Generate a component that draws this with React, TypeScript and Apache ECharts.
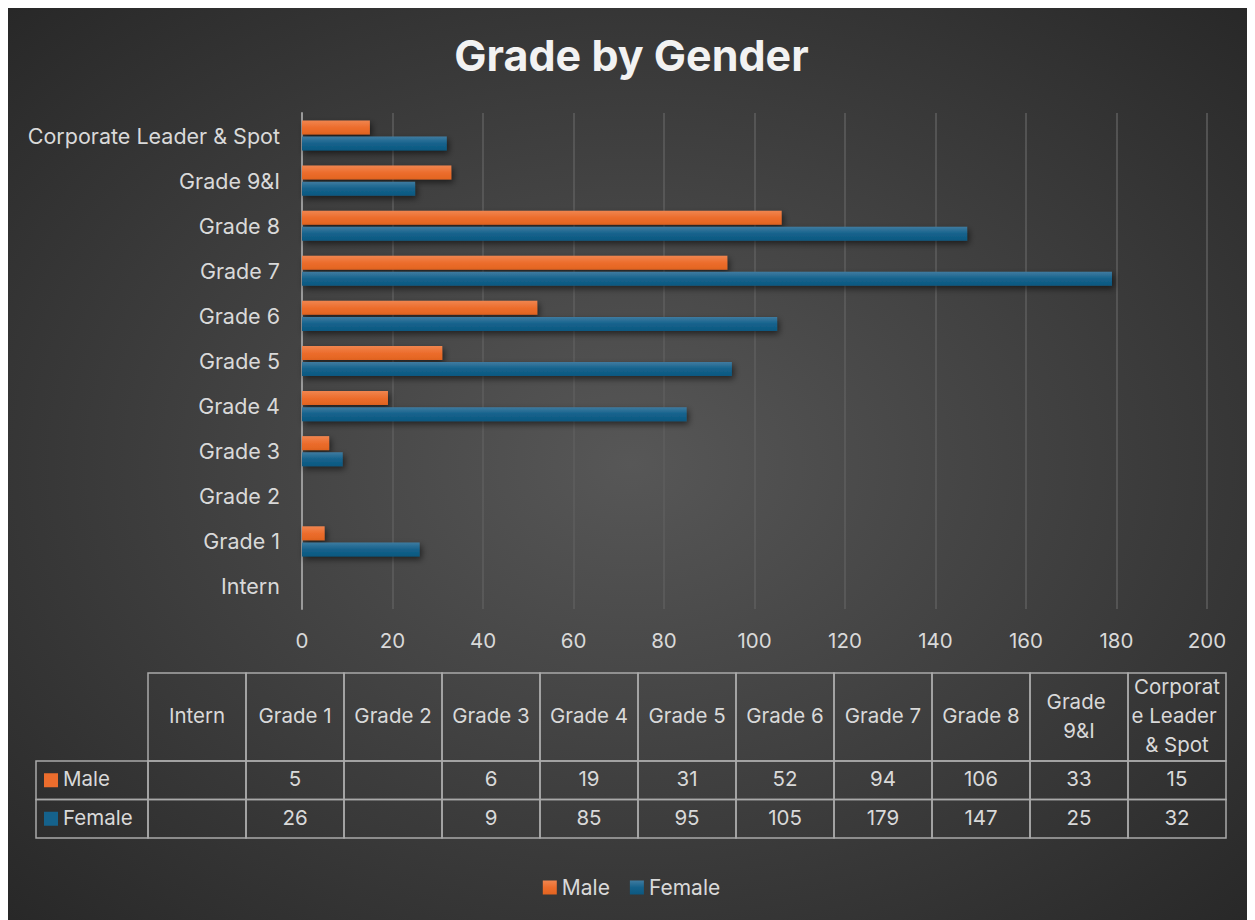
import React, { useEffect, useRef } from "react";
import * as echarts from "echarts";

const categories = [
  "Intern",
  "Grade 1",
  "Grade 2",
  "Grade 3",
  "Grade 4",
  "Grade 5",
  "Grade 6",
  "Grade 7",
  "Grade 8",
  "Grade 9&I",
  "Corporate Leader & Spot",
];
const maleValues: (number | null)[] = [null, 5, null, 6, 19, 31, 52, 94, 106, 33, 15];
const femaleValues: (number | null)[] = [null, 26, null, 9, 85, 95, 105, 179, 147, 25, 32];
const seriesNames = ["Male", "Female"];
const xMin = 0;
const xMax = 200;
const xStep = 20;

const W = 1247;
const H = 912;
const FONT = "Inter, 'Open Sans', sans-serif";
const TEXT = "#d9d9d9";

const maleColor = new echarts.graphic.LinearGradient(0, 0, 0, 1, [
  { offset: 0, color: "#f0854f" },
  { offset: 0.5, color: "#ec6d2d" },
  { offset: 1, color: "#e36420" },
]);
const femaleColor = new echarts.graphic.LinearGradient(0, 0, 0, 1, [
  { offset: 0, color: "#3f7ba0" },
  { offset: 0.5, color: "#15628c" },
  { offset: 1, color: "#0c5880" },
]);

function buildTable() {
  const els: any[] = [];
  const left = 28;
  const headColW = 112;
  const colW = 98;
  const top = 665;
  const headH = 88;
  const rowH = 38.5;
  const stroke = "#a9a9a9";
  const lw = 1.5;
  const fs = 20.5;
  const dy = -1.5;
  categories.forEach((c, i) => {
    const x = left + headColW + i * colW;
    els.push({
      type: "rect",
      shape: { x, y: top, width: colW, height: headH },
      style: { fill: "none", stroke, lineWidth: lw },
      silent: true,
    });
    els.push({
      type: "text",
      x: x + colW / 2,
      y: top + headH / 2 + dy,
      style: {
        text: c,
        fill: TEXT,
        fontSize: fs,
        fontFamily: FONT,
        align: "center",
        verticalAlign: "middle",
        textAlign: "center",
        textVerticalAlign: "middle",
        width: c.length > 12 ? 92 : c.length > 8 ? 70 : 96,
        overflow: c.length > 12 ? "breakAll" : "break",
        lineHeight: 29,
      },
      silent: true,
    });
  });
  const rows = [maleValues, femaleValues];
  const rowColors = ["#ec6d2d", "#15628c"];
  rows.forEach((vals, r) => {
    const y = top + headH + r * rowH;
    els.push({
      type: "rect",
      shape: { x: left, y, width: headColW, height: rowH },
      style: { fill: "none", stroke, lineWidth: lw },
      silent: true,
    });
    els.push({
      type: "rect",
      shape: { x: left + 8, y: y + rowH / 2 - 7, width: 14, height: 14 },
      style: { fill: rowColors[r] },
      silent: true,
    });
    els.push({
      type: "text",
      x: left + 27,
      y: y + rowH / 2 + dy,
      style: {
        text: seriesNames[r],
        fill: TEXT,
        fontSize: fs,
        fontFamily: FONT,
        align: "left",
        verticalAlign: "middle",
        textAlign: "left",
        textVerticalAlign: "middle",
      },
      silent: true,
    });
    vals.forEach((v, i) => {
      const x = left + headColW + i * colW;
      els.push({
        type: "rect",
        shape: { x, y, width: colW, height: rowH },
        style: { fill: "none", stroke, lineWidth: lw },
        silent: true,
      });
      if (v !== null) {
        els.push({
          type: "text",
          x: x + colW / 2,
          y: y + rowH / 2 + dy,
          style: {
            text: String(v),
            fill: TEXT,
            fontSize: fs,
            fontFamily: FONT,
            align: "center",
            verticalAlign: "middle",
            textAlign: "center",
            textVerticalAlign: "middle",
          },
          silent: true,
        });
      }
    });
  });
  return els;
}

export default function App() {
  const ref = useRef<HTMLDivElement>(null);
  useEffect(() => {
    document.documentElement.style.overflow = "hidden";
    document.body.style.overflow = "hidden";
    const chart = echarts.init(ref.current!, null, { renderer: "svg" });
    const shadow = {
      shadowColor: "rgba(0,0,0,0.55)",
      shadowBlur: 6,
      shadowOffsetX: 2,
      shadowOffsetY: 3,
    };
    chart.setOption({
      animation: false,
      backgroundColor: {
        type: "radial",
        x: 0.5,
        y: 0.5,
        r: 0.75,
        colorStops: [
          { offset: 0, color: "#575757" },
          { offset: 1, color: "#252525" },
        ],
      },
      title: {
        text: "Grade by Gender",
        left: "center",
        top: 20,
        textStyle: {
          color: "#f2f2f2",
          fontSize: 43,
          fontWeight: "bold",
          fontFamily: FONT,
        },
      },
      legend: {
        data: seriesNames,
        bottom: 17,
        left: "center",
        icon: "rect",
        itemWidth: 14,
        itemHeight: 14,
        itemGap: 20,
        textStyle: { color: TEXT, fontSize: 21, fontFamily: FONT },
      },
      grid: { left: 294, right: 48, top: 105, bottom: 311, containLabel: false },
      xAxis: {
        type: "value",
        min: xMin,
        max: xMax,
        interval: xStep,
        axisLine: { show: false },
        axisTick: { show: false },
        axisLabel: { color: TEXT, fontSize: 20.5, fontFamily: FONT, margin: 21 },
        splitLine: { show: true, lineStyle: { color: "#5e5e5e", width: 1.5 } },
      },
      yAxis: {
        type: "category",
        data: categories,
        axisLine: { show: true, lineStyle: { color: "#9a9a9a", width: 2 } },
        axisTick: { show: false },
        axisLabel: { color: TEXT, fontSize: 21.5, fontFamily: FONT, margin: 22 },
        splitLine: { show: false },
      },
      series: [
        {
          name: "Male",
          type: "bar",
          data: maleValues,
          barWidth: 14,
          barGap: "15%",
          itemStyle: { color: maleColor, ...shadow },
        },
        {
          name: "Female",
          type: "bar",
          data: femaleValues,
          barWidth: 14,
          barGap: "15%",
          itemStyle: { color: femaleColor, ...shadow },
        },
      ],
      graphic: buildTable(),
    });
    return () => chart.dispose();
  }, []);
  return <div ref={ref} style={{ width: W, height: H }} />;
}
